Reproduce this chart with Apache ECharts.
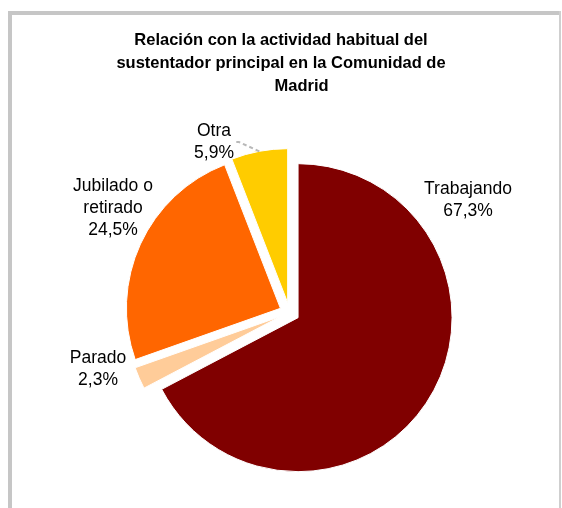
<!DOCTYPE html>
<html>
<head>
<meta charset="utf-8">
<script src="https://cdn.jsdelivr.net/npm/echarts@6/dist/echarts.min.js"></script>
<style>
html,body{margin:0;padding:0;background:#fff;}
#chart{width:562px;height:508px;}
</style>
</head>
<body>
<div id="chart"></div>
<script>
var categories = ['Trabajando', 'Parado', 'Jubilado o\nretirado', 'Otra'];
var values = [67.3, 2.3, 24.5, 5.9];
var colors = ['#800000', '#FFCC99', '#FF6600', '#FFCC00'];
var titleLines = ['Relación con la actividad habitual del', 'sustentador principal en la Comunidad de', 'Madrid'];

// label centres (text placement)
var labelPos = [[468, 200], [98, 369], [113, 208], [214, 142]];

var chart = echarts.init(document.getElementById('chart'), null, {renderer: 'canvas'});

var sliceData = categories.map(function (c, i) {
  return {name: c, value: values[i], selected: true, itemStyle: {color: colors[i]}};
});
var labelData = categories.map(function (c, i) {
  return {name: c, value: values[i], labelLine: {show: i === 3}};
});

var font = 'Liberation Sans, Arial, sans-serif';
var pad = '\u00a0\u00a0\u00a0\u00a0\u00a0\u00a0\u00a0\u00a0\u00a0';

chart.setOption({
  animation: false,
  backgroundColor: '#fff',
  title: {
    text: titleLines[0] + '\n' + titleLines[1] + '\n' + pad + titleLines[2],
    left: 'center',
    top: 24,
    textStyle: {
      fontFamily: font,
      fontSize: 16.5,
      fontWeight: 'bold',
      color: '#000',
      lineHeight: 23,
      align: 'center'
    }
  },
  graphic: [
    {type: 'line', shape: {x1: 10, y1: 11, x2: 10, y2: 520}, style: {stroke: '#c6c6c6', lineWidth: 4}, silent: true},
    {type: 'line', shape: {x1: 8, y1: 13, x2: 561, y2: 13}, style: {stroke: '#c6c6c6', lineWidth: 4}, silent: true},
    {type: 'line', shape: {x1: 560, y1: 11, x2: 560, y2: 520}, style: {stroke: '#cfcfcf', lineWidth: 2}, silent: true}
  ],
  series: [{
    type: 'pie',
    center: [289.5, 312.5],
    radius: [0, 154],
    startAngle: 90,
    clockwise: true,
    selectedMode: 'multiple',
    selectedOffset: 10,
    itemStyle: {borderColor: '#fff', borderWidth: 1},
    emphasis: {disabled: true},
    label: {show: false},
    labelLine: {show: false},
    data: sliceData
  }, {
    type: 'pie',
    center: [289.5, 312.5],
    radius: [0, 164],
    startAngle: 90,
    clockwise: true,
    silent: true,
    z: 3,
    avoidLabelOverlap: false,
    itemStyle: {color: 'rgba(0,0,0,0)', borderWidth: 0},
    emphasis: {disabled: true},
    label: {
      show: true,
      position: 'outside',
      fontFamily: font,
      fontSize: 17.5,
      lineHeight: 22,
      color: '#000',
      align: 'center',
      formatter: function (p) {
        return p.name + '\n' + p.value.toFixed(1).replace('.', ',') + '%';
      }
    },
    labelLine: {
      lineStyle: {color: '#b8b8b8', type: [4, 3], width: 2},
      length: 5,
      length2: 5
    },
    labelLayout: function (params) {
      var pos = labelPos[params.dataIndex];
      return {x: pos[0], y: pos[1], align: 'center', verticalAlign: 'middle'};
    },
    data: labelData
  }]
});
</script>
</body>
</html>
